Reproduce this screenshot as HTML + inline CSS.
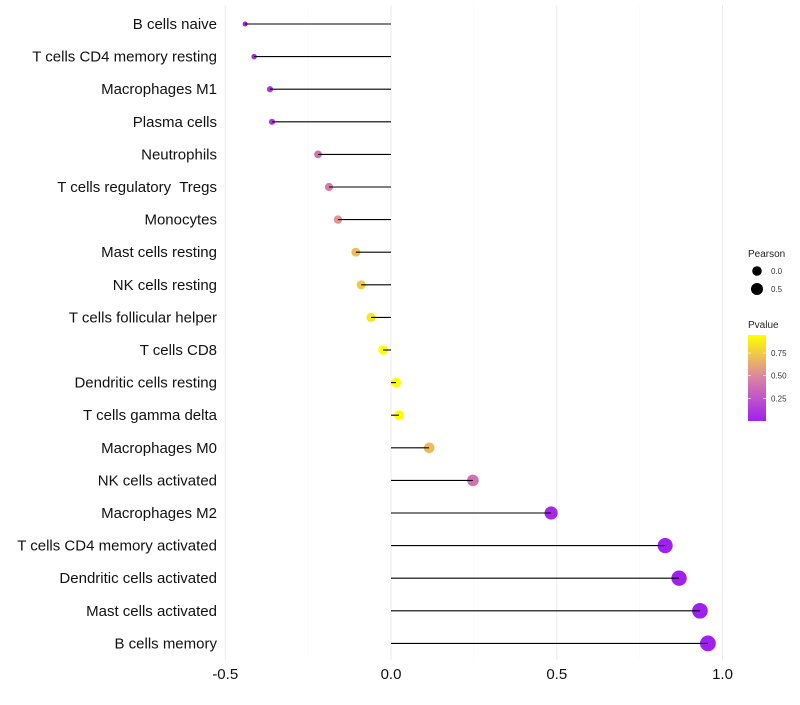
<!DOCTYPE html>
<html><head><meta charset="utf-8"><style>
body{margin:0;background:#fff;font-family:"Liberation Sans",sans-serif}
text{white-space:pre}
</style></head><body>
<svg id="chart" width="800" height="700" xmlns="http://www.w3.org/2000/svg" font-family="Liberation Sans, sans-serif"></svg>
<script>
const categories=["B cells naive","T cells CD4 memory resting","Macrophages M1","Plasma cells","Neutrophils","T cells regulatory  Tregs","Monocytes","Mast cells resting","NK cells resting","T cells follicular helper","T cells CD8","Dendritic cells resting","T cells gamma delta","Macrophages M0","NK cells activated","Macrophages M2","T cells CD4 memory activated","Dendritic cells activated","Mast cells activated","B cells memory"];
const pearson=[-0.44,-0.413,-0.365,-0.359,-0.22,-0.187,-0.16,-0.106,-0.09,-0.06,-0.024,0.015,0.024,0.115,0.247,0.483,0.827,0.869,0.932,0.956];
const pvalue=[0.03,0.05,0.1,0.12,0.4,0.45,0.55,0.7,0.75,0.85,0.95,0.98,0.95,0.7,0.4,0.05,0.01,0.01,0.01,0.01];
const xTicks=[-0.5,0,0.5,1.0];
const xTickLabels=["-0.5","0.0","0.5","1.0"];
const legendSizes=[0,0.5];
const legendP=[0.25,0.5,0.75];

const svg=document.getElementById('chart');
const NS="http://www.w3.org/2000/svg";
function mk(t,a,p){const e=document.createElementNS(NS,t);for(const k in a)e.setAttribute(k,a[k]);(p||svg).appendChild(e);return e;}
const x=v=>391+(v)*331.5;
const y=i=>24+i*32.6;
const r=v=>Math.sqrt(Math.max(3,24+40*v));
function lerp(a,b,t){return a.map((c,i)=>Math.round(c+(b[i]-c)*t));}
function col(p){const t=Math.max(0,Math.min(1,(p-0.01)/0.94));
 const s=[[160,32,240],[218,130,165],[255,255,0]];
 const c=t<0.5?lerp(s[0],s[1],t*2):lerp(s[1],s[2],(t-0.5)*2);return `rgb(${c})`;}
[-0.25,0.25,0.75].forEach(v=>{const g=mk('line',{x1:x(v),x2:x(v),y1:5,y2:660,stroke:'#f7f7f7','stroke-width':0.5});});
xTicks.forEach((v,i)=>{const g=mk('line',{x1:x(v),x2:x(v),y1:5,y2:660,stroke:'#ebebeb','stroke-width':1});

const t=mk('text',{x:x(v),y:679,'text-anchor':'middle','font-size':15,fill:'#111'});t.textContent=xTickLabels[i];
});
categories.forEach((c,i)=>{
 const t=mk('text',{x:217,y:y(i)+5,'text-anchor':'end','font-size':15,fill:'#111'});t.textContent=c;
 
 const p=mk('circle',{cx:x(pearson[i]),cy:y(i),r:r(pearson[i]),fill:col(pvalue[i])});
 
 const l=mk('line',{x1:x(0),x2:x(pearson[i]),y1:y(i),y2:y(i),stroke:'#000','stroke-width':1.1});
 
});
let t=mk('text',{x:748,y:257,'font-size':10,fill:'#222'});t.textContent='Pearson';

legendSizes.forEach((v,i)=>{const cy=271+i*18;const c=mk('circle',{cx:757,cy:cy,r:[4.8,6][i],fill:'#000'});

const l=mk('text',{x:771,y:cy+3,'font-size':8,fill:'#333'});l.textContent=v.toFixed(1);
});
t=mk('text',{x:748,y:328,'font-size':10,fill:'#222'});t.textContent='Pvalue';

const defs=mk('defs',{});const gr=mk('linearGradient',{id:'pg',x1:0,y1:1,x2:0,y2:0},defs);
for(let k=0;k<=10;k++){mk('stop',{offset:k/10,'stop-color':col(0.01+k/10*0.94)},gr);}
const bar=mk('rect',{x:748,y:335,width:18,height:86,fill:'url(#pg)'});

const py=p=>420-(p-0.01)/0.94*85;
legendP.forEach(p=>{const l=mk('text',{x:771,y:py(p)+3,'font-size':8,fill:'#333'});l.textContent=p.toFixed(2);

mk('line',{x1:748,x2:751,y1:py(p),y2:py(p),stroke:'#fff','stroke-width':0.6});mk('line',{x1:763,x2:766,y1:py(p),y2:py(p),stroke:'#fff','stroke-width':0.6});});
</script>
</body></html>
